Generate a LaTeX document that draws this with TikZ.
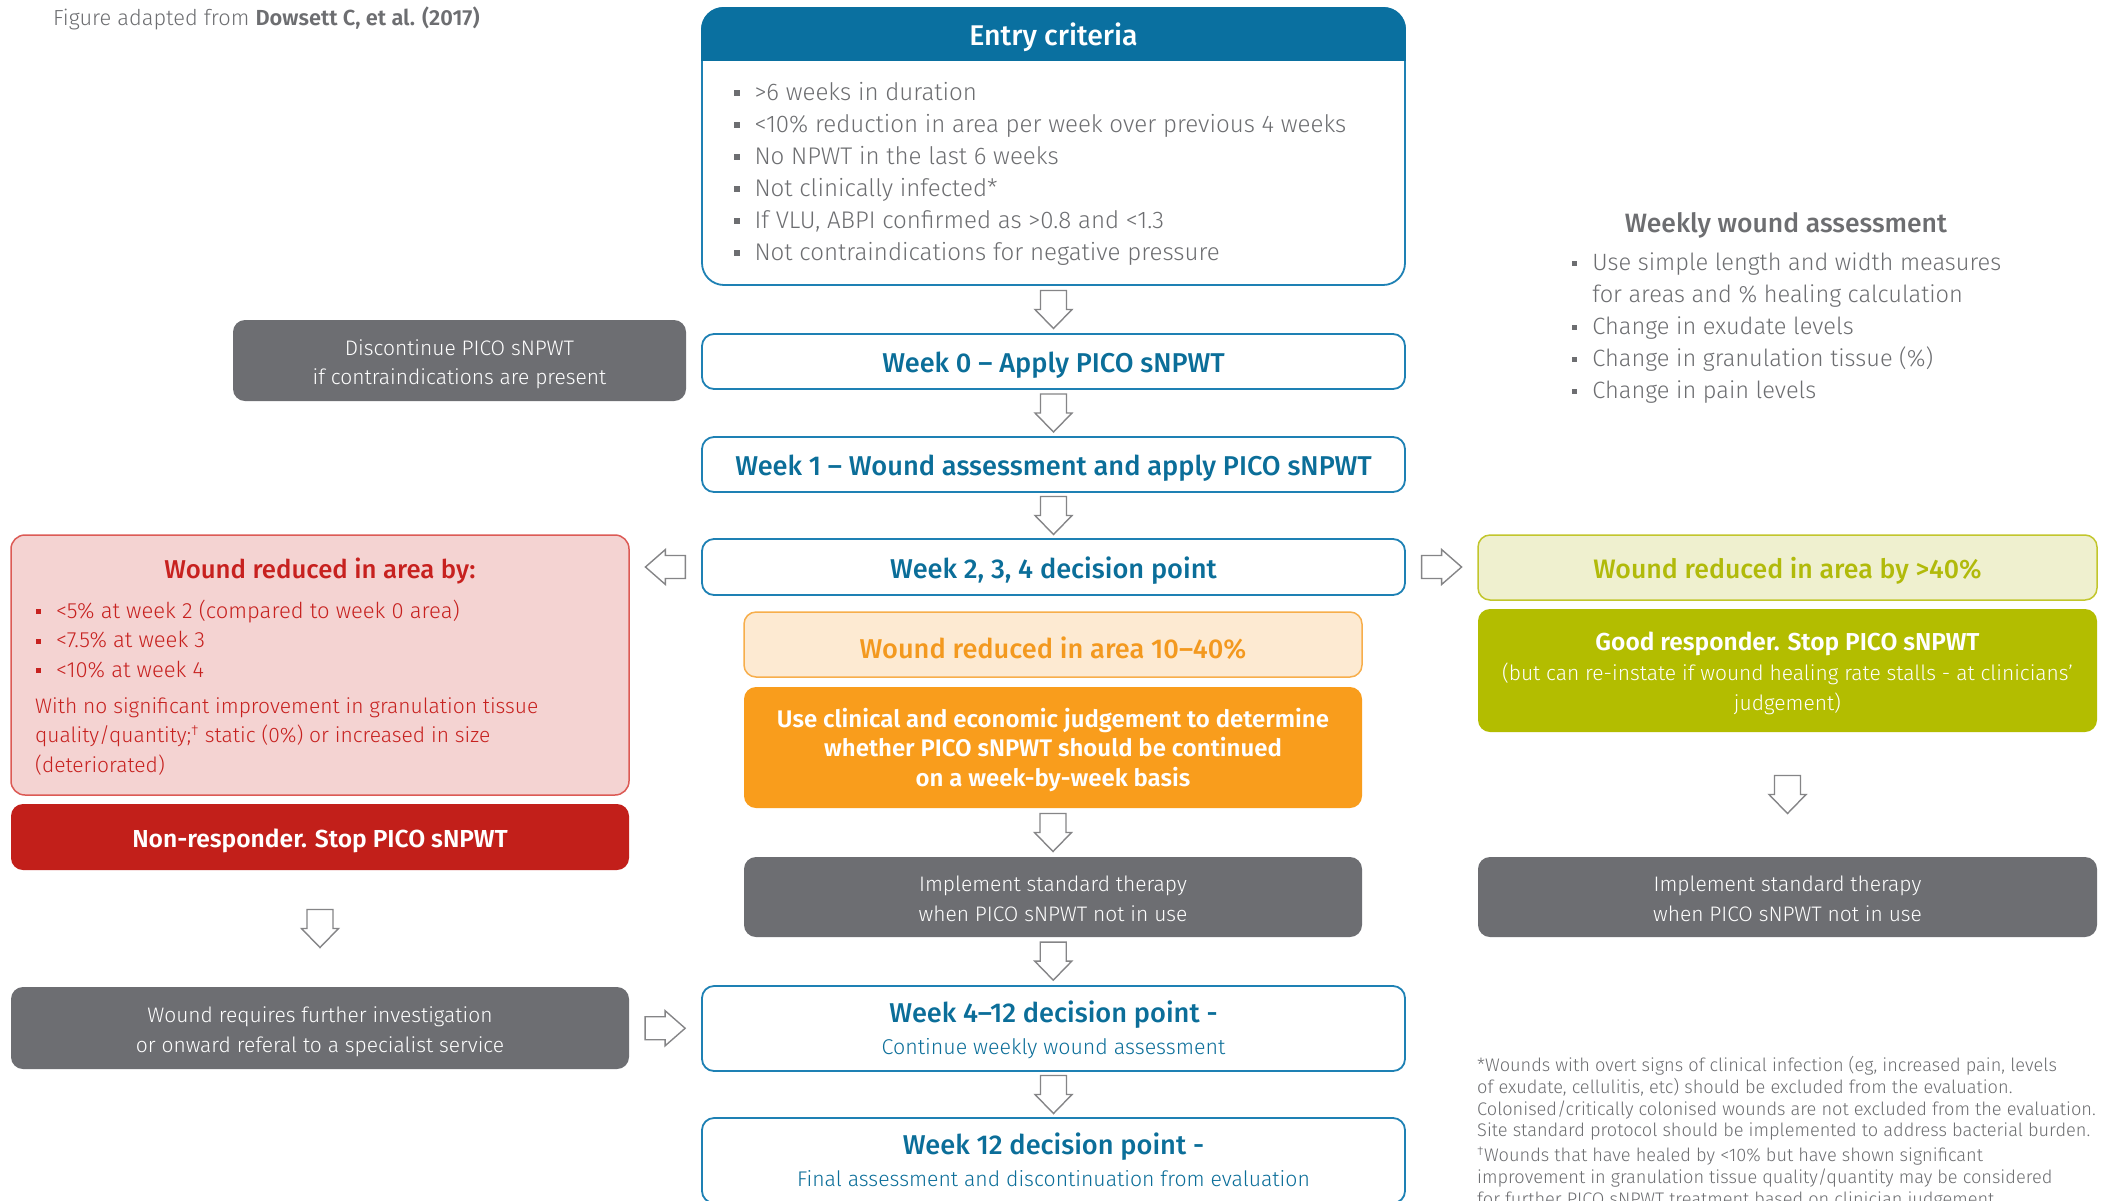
\documentclass[tikz,border=0pt]{standalone}
\usepackage{fontspec}
\setmainfont{Fira Sans Light}[BoldFont={Fira Sans SemiBold}]
\newfontfamily\medfont{Fira Sans Medium}
\newfontfamily\regfont{Fira Sans}
\usetikzlibrary{calc}
\definecolor{cbluehead}{HTML}{0A70A0}
\definecolor{cbluetext}{HTML}{0B6E99}
\definecolor{cbluebord}{HTML}{1E81B4}
\definecolor{cgraytext}{HTML}{6D6E71}
\definecolor{cgrayfill}{HTML}{6D6E72}
\definecolor{credfill}{HTML}{F4D3D2}
\definecolor{credbord}{HTML}{DC5A55}
\definecolor{credtext}{HTML}{C7211F}
\definecolor{creddark}{HTML}{C21F1A}
\definecolor{corfill}{HTML}{FDEAD2}
\definecolor{corbord}{HTML}{F7AE4B}
\definecolor{cortext}{HTML}{F3991F}
\definecolor{cordark}{HTML}{F99D1C}
\definecolor{cgrfill}{HTML}{EFF0CF}
\definecolor{cgrbord}{HTML}{C2C62C}
\definecolor{cgrtext}{HTML}{B1BA0A}
\definecolor{cgrdark}{HTML}{B3BD00}
\definecolor{carrow}{HTML}{858587}
\newcommand\fsz[2]{\fontsize{#1}{#2}\selectfont}
\newcommand\bsq{\rule[0.2em]{0.22em}{0.22em}}
\newcommand\dn[1]{\raisebox{-3.5pt}[\height][\depth]{#1}}
\begin{document}
\begin{tikzpicture}[x=1pt,y=-1pt,
  bluebox/.style={draw=cbluebord, line width=1.8, fill=white, rounded corners=12, minimum width=703, inner sep=0, text=cbluetext, font=\medfont\fsz{27.2}{32}},
  graybox/.style={fill=cgrayfill, rounded corners=12, inner sep=0, text=white, font=\fsz{21}{29.5}},
  blockarrow/.style={draw=carrow, line width=1.4, fill=white, line join=miter},
  darrow/.pic={\draw[blockarrow] (-13,-19) -- (13,-19) -- (13,0) -- (18.5,0) -- (0,19) -- (-18.5,0) -- (-13,0) -- cycle;},
  rarrow/.pic={\draw[blockarrow] (-20,-11.5) -- (0,-11.5) -- (0,-17.5) -- (20,0) -- (0,17.5) -- (0,11.5) -- (-20,11.5) -- cycle;},
  larrow/.pic={\draw[blockarrow] (20,-11.5) -- (0,-11.5) -- (0,-17.5) -- (-20,0) -- (0,17.5) -- (0,11.5) -- (20,11.5) -- cycle;}
]
\useasboundingbox[fill=white] (0,0) rectangle (2109,1200);

% caption
\node[anchor=west, inner sep=0, text=cgraytext, font=\fsz{21.8}{24}] (caption) at (53,18) {Figure adapted from \textbf{Dowsett C, et al. (2017)}};

% entry criteria
\node[draw=cbluebord, line width=1.8, rounded corners=22, minimum width=703, minimum height=277, inner sep=0] (entry) at (1053.5,146.5) {};
\begin{scope}
\clip[rounded corners=22] (entry.north west) rectangle (entry.south east);
\fill[cbluehead] (entry.north west) rectangle ($(entry.north east)+(0,54)$);
\end{scope}
\node[text=white, inner sep=0, font=\medfont\fsz{28.5}{32}] (entrytitle) at ($(entry.north)+(0,30)$) {Entry criteria};
\node[anchor=west, inner sep=0, text=cgraytext, font=\fsz{24.1}{32}] (entrylist) at (734,174) {\begin{tabular}{@{}l@{\hspace{15pt}}l@{}}
\bsq & >6 weeks in duration\\
\bsq & <10\% reduction in area per week over previous 4 weeks\\
\bsq & No NPWT in the last 6 weeks\\
\bsq & Not clinically infected*\\
\bsq & If VLU, ABPI confirmed as >0.8 and <1.3\\
\bsq & Not contraindications for negative pressure
\end{tabular}};

% centre column
\node[bluebox, minimum height=55] (w0) at (1053.5,361.5) {\dn{Week 0 – Apply PICO sNPWT}};
\node[bluebox, minimum height=55] (w1) at (1053.5,464.5) {\dn{Week 1 – Wound assessment and apply PICO sNPWT}};
\node[bluebox, minimum height=56] (w234) at (1053.5,567) {\dn{Week 2, 3, 4 decision point}};
\node[fill=corfill, draw=corbord, line width=1.5, rounded corners=12, minimum width=618, minimum height=65, inner sep=0, text=cortext, font=\medfont\fsz{27.2}{32}] (orl) at (1053,644.5) {\dn{Wound reduced in area 10–40\%}};
\node[fill=cordark, rounded corners=12, minimum width=618, minimum height=121, inner sep=0, text=white, font=\bfseries\fsz{24}{29.5}] (ord) at (1053,747.5) {\dn{\begin{tabular}{@{}c@{}}Use clinical and economic judgement to determine\\ whether PICO sNPWT should be continued\\ on a week-by-week basis\end{tabular}}};
\node[graybox, minimum width=618, minimum height=80] (grayc) at (1053,897) {\dn{\begin{tabular}{@{}c@{}}Implement standard therapy\\ when PICO sNPWT not in use\end{tabular}}};
\node[bluebox, minimum height=85] (w412) at (1053.5,1028.5) {\dn{\begin{tabular}{@{}c@{}}Week 4–12 decision point -\\ {\fontspec{Fira Sans Light}\fsz{21.4}{32}Continue weekly wound assessment}\end{tabular}}};
\node[bluebox, minimum height=85] (w12) at (1053.5,1160.5) {\dn{\begin{tabular}{@{}c@{}}Week 12 decision point -\\ {\fontspec{Fira Sans Light}\fsz{21.2}{32}Final assessment and discontinuation from evaluation}\end{tabular}}};

% left column
\node[graybox, minimum width=453, minimum height=81] (disc) at (459.5,360.5) {\dn{\begin{tabular}{@{}c@{}}Discontinue PICO sNPWT\\ if contraindications are present\end{tabular}}};
\node[fill=credfill, draw=credbord, line width=1.5, rounded corners=14, minimum width=618, minimum height=260, inner sep=0] (red) at (320,665) {};
\node[inner sep=0, text=credtext, font=\medfont\fsz{25.8}{30}] (redtitle) at (320,571) {Wound reduced in area by:};
\node[anchor=west, inner sep=0, text=credtext, font=\fsz{22}{29.5}] (redlist) at (36,642) {\begin{tabular}{@{}l@{\hspace{15pt}}l@{}}
\bsq & <5\% at week 2 (compared to week 0 area)\\
\bsq & <7.5\% at week 3\\
\bsq & <10\% at week 4
\end{tabular}};
\node[anchor=west, inner sep=0, text=credtext, font=\fsz{21}{29.5}] (redpara) at (35,737) {\begin{tabular}{@{}l@{}}
With no significant improvement in granulation tissue\\
quality/quantity;\textsuperscript{†} static (0\%) or increased in size\\
(deteriorated)
\end{tabular}};
\node[fill=creddark, rounded corners=12, minimum width=618, minimum height=66, inner sep=0, text=white, font=\bfseries\fsz{24.6}{30}] (nonresp) at (320,837) {\dn{Non-responder. Stop PICO sNPWT}};
\node[graybox, minimum width=618, minimum height=82] (further) at (320,1028) {\dn{\begin{tabular}{@{}c@{}}Wound requires further investigation\\ or onward referal to a specialist service\end{tabular}}};

% right column
\node[inner sep=0, text=cgraytext, font=\medfont\fsz{26.5}{30}] (weektitle) at (1786,225) {Weekly wound assessment};
\node[anchor=west, inner sep=0, text=cgraytext, font=\fsz{23.6}{32}] (weeklist) at (1572,328.5) {\begin{tabular}{@{}l@{\hspace{15pt}}l@{}}
\bsq & Use simple length and width measures\\
 & for areas and \% healing calculation\\
\bsq & Change in exudate levels\\
\bsq & Change in granulation tissue (\%)\\
\bsq & Change in pain levels
\end{tabular}};
\node[fill=cgrfill, draw=cgrbord, line width=1.5, rounded corners=12, minimum width=619, minimum height=65, inner sep=0, text=cgrtext, font=\medfont\fsz{26.7}{32}] (grl) at (1787.5,567.5) {\dn{Wound reduced in area by >40\%}};
\node[fill=cgrdark, rounded corners=12, minimum width=619, minimum height=123, inner sep=0, text=white, font=\fsz{21}{30}] (grd) at (1787.5,670.5) {\dn{\begin{tabular}{@{}c@{}}{\bfseries\fsz{24.5}{30}Good responder. Stop PICO sNPWT}\\ (but can re-instate if wound healing rate stalls - at clinicians'\\ judgement)\end{tabular}}};
\node[graybox, minimum width=619, minimum height=80] (grayr) at (1787.5,897) {\dn{\begin{tabular}{@{}c@{}}Implement standard therapy\\ when PICO sNPWT not in use\end{tabular}}};

% footnotes
\node[anchor=west, inner sep=0, text=cgraytext, font=\fsz{18.2}{21.7}] (foot1) at (1477,1100) {\begin{tabular}{@{}l@{}}
*Wounds with overt signs of clinical infection (eg, increased pain, levels\\
of exudate, cellulitis, etc) should be excluded from the evaluation.\\
Colonised/critically colonised wounds are not excluded from the evaluation.\\
Site standard protocol should be implemented to address bacterial burden.
\end{tabular}};
\node[anchor=west, inner sep=0, text=cgraytext, font=\fsz{18.2}{21.7}] (foot2) at (1477,1179) {\begin{tabular}{@{}l@{}}
\textsuperscript{†}Wounds that have healed by <10\% but have shown significant\\
improvement in granulation tissue quality/quantity may be considered\\
for further PICO sNPWT treatment based on clinician judgement.
\end{tabular}};

% block arrows between nodes
\pic at ($(entry.south)!0.5!(w0.north)$) {darrow};
\pic at ($(w0.south)!0.5!(w1.north)$) {darrow};
\pic at ($(w1.south)!0.5!(w234.north)$) {darrow};
\pic at ($(red.east|-w234.west)!0.5!(w234.west)$) {larrow};
\pic at ($(w234.east)!0.5!(grl.west|-w234.east)$) {rarrow};
\pic at ($(ord.south)!0.5!(grayc.north)$) {darrow};
\pic at ($(grayc.south)!0.5!(w412.north)$) {darrow};
\pic at ($(w412.south)!0.5!(w12.north)$) {darrow};
\pic at ($(grd.south)!0.5!(grayr.north)$) {darrow};
\pic at ($(nonresp.south)!0.5!(further.north)$) {darrow};
\pic at ($(further.east)!0.5!(w412.west)$) {rarrow};
\end{tikzpicture}
\end{document}
